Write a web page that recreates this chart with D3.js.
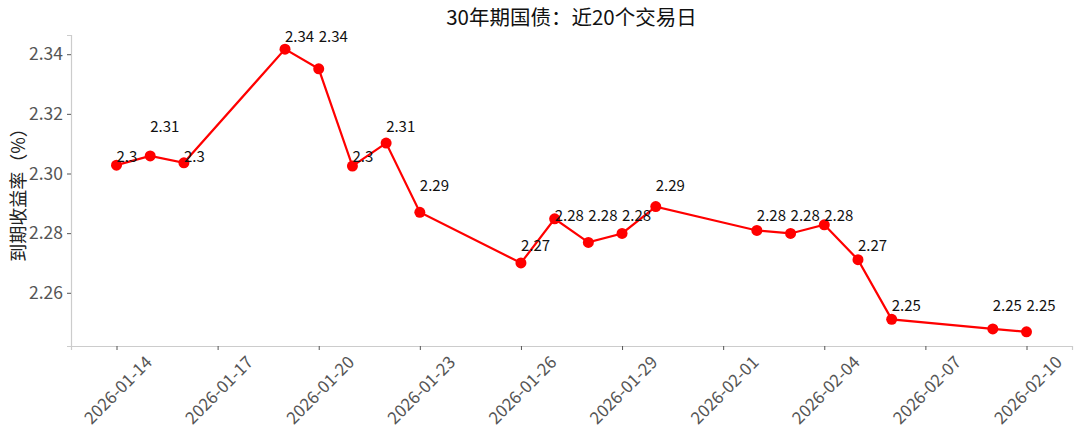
<!DOCTYPE html>
<html>
<head>
<meta charset="utf-8">
<script src="https://cdn.jsdelivr.net/npm/d3@7"></script>
<style>
  body { margin: 0; background: #fff; }
  svg { display: block; font-family: "Microsoft YaHei", "Noto Sans CJK SC", sans-serif; }
</style>
</head>
<body>
<script>
// trading dates and 30y yield (%)
var dates = [
  '2026-01-14', '2026-01-15', '2026-01-16', '2026-01-19', '2026-01-20',
  '2026-01-21', '2026-01-22', '2026-01-23', '2026-01-26', '2026-01-27',
  '2026-01-28', '2026-01-29', '2026-01-30', '2026-02-02', '2026-02-03',
  '2026-02-04', '2026-02-05', '2026-02-06', '2026-02-09', '2026-02-10'
];
var yields = [
  2.3028, 2.3059, 2.3036, 2.3417, 2.3351,
  2.3025, 2.3102, 2.2870, 2.2700, 2.2848,
  2.2769, 2.2799, 2.2889, 2.2809, 2.2799,
  2.2828, 2.2711, 2.2511, 2.2479, 2.2469
];
var x_tick_labels = [
  '2026-01-14', '2026-01-17', '2026-01-20', '2026-01-23', '2026-01-26',
  '2026-01-29', '2026-02-01', '2026-02-04', '2026-02-07', '2026-02-10'
];
var y_tick_values = [2.26, 2.28, 2.30, 2.32, 2.34];

var title_text = '30年期国债：近20个交易日';
var y_label = '到期收益率（%）';

var chart_width  = 1080;
var chart_height = 440;
var margin = { top: 35, right: 8, bottom: 94, left: 71 };
var font_stack = '"Microsoft YaHei", "Noto Sans CJK SC", sans-serif';

var time_parse = d3.timeParse('%Y-%m-%d');
var time_format = d3.timeFormat('%Y-%m-%d');

var data = dates.map(function(d, i) {
  return { date: time_parse(d), value: yields[i] };
});

// matplotlib style 5% padding on both axes
var x_ext = d3.extent(data, function(d) { return d.date; });
var x_pad = (x_ext[1] - x_ext[0]) * 0.05;
var y_ext = d3.extent(data, function(d) { return d.value; });
var y_pad = (y_ext[1] - y_ext[0]) * 0.05;

var x_scale = d3.scaleTime()
  .domain([new Date(+x_ext[0] - x_pad), new Date(+x_ext[1] + x_pad)])
  .range([margin.left, chart_width - margin.right]);

var y_scale = d3.scaleLinear()
  .domain([y_ext[0] - y_pad, y_ext[1] + y_pad])
  .range([chart_height - margin.bottom, margin.top]);

var svg = d3.select('body')
  .append('svg')
  .attr('width', chart_width)
  .attr('height', chart_height);

// title
svg.append('text')
  .attr('x', (margin.left + chart_width - margin.right) / 2)
  .attr('y', 25)
  .attr('text-anchor', 'middle')
  .attr('font-size', 20.5)
  .attr('fill', '#111')
  .text(title_text);

// y axis label
svg.append('text')
  .attr('transform', 'translate(17,' + ((margin.top + chart_height - margin.bottom) / 2) + ') rotate(-90)')
  .attr('text-anchor', 'middle')
  .attr('dominant-baseline', 'central')
  .attr('font-size', 18)
  .attr('fill', '#222')
  .text(y_label);

// axes
var x_axis = d3.axisBottom(x_scale)
  .tickValues(x_tick_labels.map(time_parse))
  .tickSize(4)
  .tickFormat('');

var y_axis = d3.axisLeft(y_scale)
  .tickValues(y_tick_values)
  .tickSize(4)
  .tickPadding(4)
  .tickFormat(d3.format('.2f'));

var gx = svg.append('g')
  .attr('transform', 'translate(0,' + (chart_height - margin.bottom) + ')')
  .call(x_axis);

var gy = svg.append('g')
  .attr('transform', 'translate(' + margin.left + ',0)')
  .call(y_axis);

[gx, gy].forEach(function(g) {
  g.select('.domain').attr('stroke', '#cccccc').attr('stroke-width', 1.2);
  g.selectAll('.tick line').attr('stroke', '#555').attr('stroke-width', 1);
  g.selectAll('.tick text')
    .attr('fill', '#555')
    .attr('font-size', 17.5)
    .attr('font-family', font_stack);
});

// rotated date labels, centred under each tick
gx.selectAll('.tick')
  .append('text')
  .attr('transform', 'translate(0,43) rotate(-45)')
  .attr('text-anchor', 'middle')
  .attr('dominant-baseline', 'central')
  .attr('fill', '#555')
  .attr('font-size', 17)
  .attr('font-family', font_stack)
  .text(function(d) { return time_format(d); });

// line
var line = d3.line()
  .x(function(d) { return x_scale(d.date); })
  .y(function(d) { return y_scale(d.value); });

svg.append('path')
  .datum(data)
  .attr('fill', 'none')
  .attr('stroke', '#ff0000')
  .attr('stroke-width', 2.2)
  .attr('d', line);

svg.selectAll('circle')
  .data(data)
  .enter()
  .append('circle')
  .attr('cx', function(d) { return x_scale(d.date); })
  .attr('cy', function(d) { return y_scale(d.value); })
  .attr('r', 5.5)
  .attr('fill', '#ff0000');

// value labels, placed above the rounded value
function round2(v) { return Math.round(v * 100) / 100; }

svg.selectAll('.val-label')
  .data(data)
  .enter()
  .append('text')
  .attr('class', 'val-label')
  .attr('x', function(d) { return x_scale(d.date); })
  .attr('y', function(d) { return y_scale(round2(d.value)) - 12; })
  .attr('font-size', 15)
  .attr('fill', '#111')
  .text(function(d) { return String(round2(d.value)); });
</script>
</body>
</html>
